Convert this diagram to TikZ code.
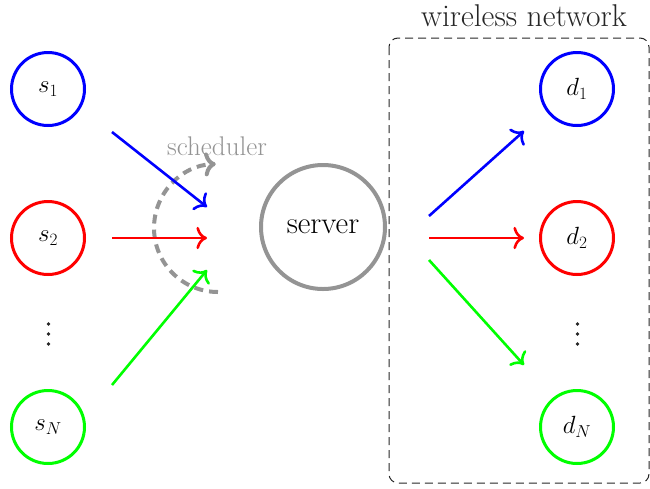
\documentclass[tikz,border=0pt]{standalone}
\usepackage{fontspec}
\usetikzlibrary{arrows.meta}
\begin{document}
\begin{tikzpicture}[x=1pt,y=-1pt,
  nd/.style={circle, line width=3pt, minimum size=73pt, inner sep=0pt, font=\fontsize{27}{32}\selectfont},
  arr/.style={-{To[scale=1.45]}, line width=2.6pt},
  srv/.style={circle, draw=black!42, line width=4pt, minimum size=124pt, inner sep=0pt, font=\fontsize{31}{37}\selectfont},
  lbl/.style={font=\fontsize{31.5}{37}\selectfont},
  dot/.style={circle, fill=black!85, inner sep=0pt, minimum size=3.6pt},
]
\useasboundingbox (0,0) rectangle (650,488);
% dashed wireless box
\draw[line width=1pt, black!85, dash pattern=on 8pt off 5pt, rounded corners=9pt] (389,38) rectangle (649,483);
\node[lbl, text=black!85] (wl) at (524,16) {wireless network};
% sources
\node[nd, draw=blue] (s1) at (48,89) {$s_1$};
\node[nd, draw=red] (s2) at (48,238) {$s_2$};
\node[nd, draw=green] (sN) at (48,427) {$s_N$};
\node[dot] (l1) at (48.5,324) {};
\node[dot] (l2) at (48.5,334) {};
\node[dot] (l3) at (48.5,344) {};
% destinations
\node[nd, draw=blue] (d1) at (577,89) {$d_1$};
\node[nd, draw=red] (d2) at (577,238) {$d_2$};
\node[nd, draw=green] (dN) at (577,427) {$d_N$};
\node[dot] (r1) at (577.5,324) {};
\node[dot] (r2) at (577.5,334) {};
\node[dot] (r3) at (577.5,344) {};
% server
\node[srv] (srv) at (323,227) {server};
% coordinates for arrows
\coordinate (a1) at (112,132); \coordinate (b1) at (207,207);
\coordinate (a2) at (112,238); \coordinate (b2) at (207,238);
\coordinate (a3) at (112,385); \coordinate (b3) at (207,270);
\coordinate (c1) at (429,216); \coordinate (e1) at (524,131);
\coordinate (c2) at (429,238); \coordinate (e2) at (524,238);
\coordinate (c3) at (429,260); \coordinate (e3) at (524,365);
% scheduler arc
\coordinate (sch0) at (218,292);
\draw[-{To[scale=1.1]}, line width=4pt, black!42, dash pattern=on 9pt off 6pt] (sch0) arc[start angle=90, end angle=268, radius=64];
\node[font=\fontsize{27}{32}\selectfont, text=black!42] (sch) at (217,146) {scheduler};
\draw[arr, blue] (a1) -- (b1);
\draw[arr, red] (a2) -- (b2);
\draw[arr, green] (a3) -- (b3);
\draw[arr, blue] (c1) -- (e1);
\draw[arr, red] (c2) -- (e2);
\draw[arr, green] (c3) -- (e3);
\end{tikzpicture}
\end{document}
